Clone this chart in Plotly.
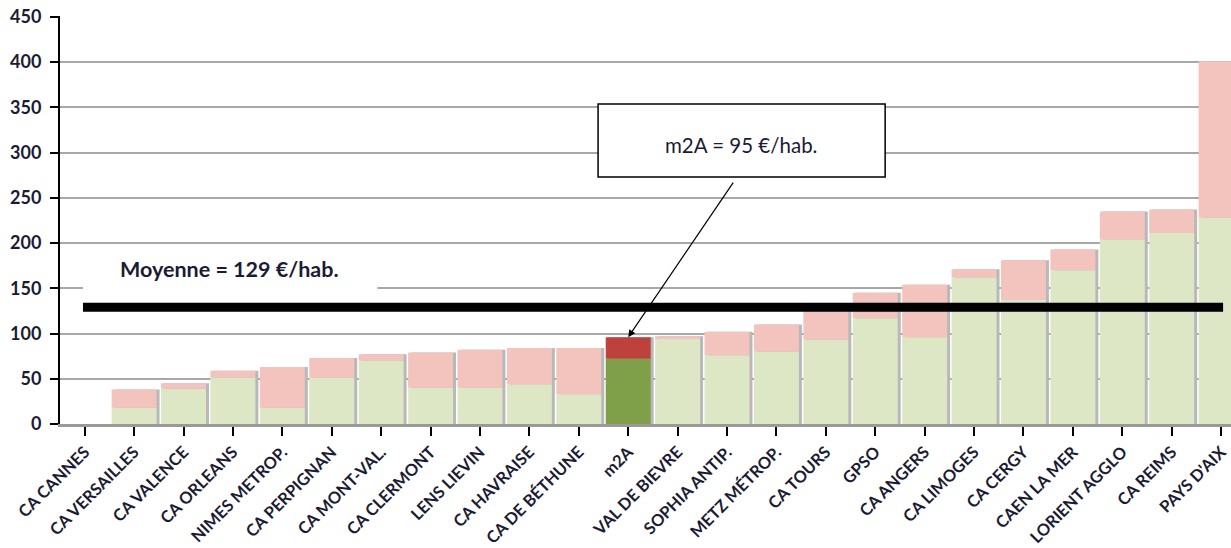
import plotly.graph_objects as go

categories = ["CA CANNES", "CA VERSAILLES", "CA VALENCE", "CA ORLEANS", "NIMES METROP.",
              "CA PERPIGNAN", "CA MONT-VAL.", "CA CLERMONT", "LENS LIEVIN", "CA HAVRAISE",
              "CA DE BÉTHUNE", "m2A", "VAL DE BIEVRE", "SOPHIA ANTIP.", "METZ MÉTROP.",
              "CA TOURS", "GPSO", "CA ANGERS", "CA LIMOGES", "CA CERGY", "CAEN LA MER",
              "LORIENT AGGLO", "CA REIMS", "PAYS D'AIX"]
base_part = [0, 18, 39, 51, 18, 51, 70, 40, 40, 44, 33, 72, 94, 76, 80, 93, 117, 96, 162, 137, 170, 204, 211, 228]
top_part = [0, 20, 6, 8, 45, 22, 7, 39, 42, 40, 51, 24, 3, 26, 30, 32, 28, 58, 9, 44, 23, 31, 26, 173]
mean_value = 129
m2a_label = "m2A = 95 €/hab."
mean_label = "Moyenne = 129 €/hab."
y_ticks = [0, 50, 100, 150, 200, 250, 300, 350, 400, 450]

FONT = "Lato"
TXT = "#1b1b33"
totals = [a + b for a, b in zip(base_part, top_part)]
idx = list(range(len(categories)))
green_cols = ["#7f9f48" if c == "m2A" else "#dde7c5" for c in categories]
red_cols = ["#be423c" if c == "m2A" else "#f3c3be" for c in categories]

W = 0.91
fig = go.Figure()
fig.add_bar(x=idx, y=totals, width=W, offset=-W / 2 + 0.06, marker=dict(color="#b8b8b8", line_width=0),
            hoverinfo="skip", showlegend=False)
fig.add_bar(x=idx, y=base_part, width=W, offset=-W / 2, marker=dict(color=green_cols, line_width=0),
            showlegend=False)
fig.add_bar(x=idx, y=top_part, base=base_part, width=W, offset=-W / 2,
            marker=dict(color=red_cols, line_width=0), showlegend=False)

xr = [-0.5, 23.2]
fig.update_layout(
    width=1231, height=548, barmode="overlay",
    margin=dict(l=60, r=0, t=16, b=124),
    paper_bgcolor="white", plot_bgcolor="white",
    font=dict(family=FONT, color=TXT),
    xaxis=dict(range=xr, tickmode="array", tickvals=idx, ticktext=categories, automargin=False,
               tickangle=-45, tickfont=dict(size=16.5, weight="bold", family=FONT, color=TXT),
               showgrid=False, showline=True, linecolor="#9a9a9a", linewidth=3,
               ticks="outside", tickson="boundaries", ticklen=9, tickwidth=2, tickcolor="black",
               zeroline=False, ticklabeloverflow="allow"),
    yaxis=dict(range=[0, 451], tickmode="array", tickvals=y_ticks, automargin=False,
               tickfont=dict(size=18, weight="bold", family=FONT, color=TXT),
               showgrid=True, gridcolor="#a8a8a8", gridwidth=2, ticklabeloverflow="allow",
               showline=True, linecolor="black", linewidth=2, ticklabelstandoff=5,
               ticks="outside", ticklen=8, tickwidth=2, tickcolor="black", zeroline=False),
)

# white label box behind mean label
fig.add_shape(type="rect", xref="x", yref="y", x0=-0.035, x1=5.92, y0=140, y1=194,
              fillcolor="white", line_width=0, layer="above")
fig.add_annotation(x=0.68, y=171, xref="x", yref="y", text=mean_label, showarrow=False,
                   xanchor="left", font=dict(size=21.5, weight="bold", family=FONT, color=TXT))
# mean line
fig.add_shape(type="line", xref="x", yref="y", x0=-0.035, x1=23.04, y0=mean_value, y1=mean_value,
              line=dict(color="black", width=9), layer="above")

# m2A callout box + text + arrow
fig.add_shape(type="rect", xref="x", yref="y", x0=10.39, x1=16.2, y0=273.1, y1=353.8,
              fillcolor="white", line=dict(color="black", width=1.5), layer="above")
fig.add_annotation(x=13.29, y=308.5, xref="x", yref="y", text=m2a_label, showarrow=False,
                   font=dict(size=20.5, family=FONT, color=TXT))
m2a_i = categories.index("m2A")
fig.add_annotation(x=m2a_i, y=totals[m2a_i], xref="x", yref="y", text="", showarrow=True,
                   ax=106, ay=-156, arrowhead=2, arrowsize=1.2, arrowwidth=1.2, arrowcolor="black",
                   standoff=0)

fig.write_html("out.html", config={"displayModeBar": False},
               post_script="document.body.style.margin='0';")
